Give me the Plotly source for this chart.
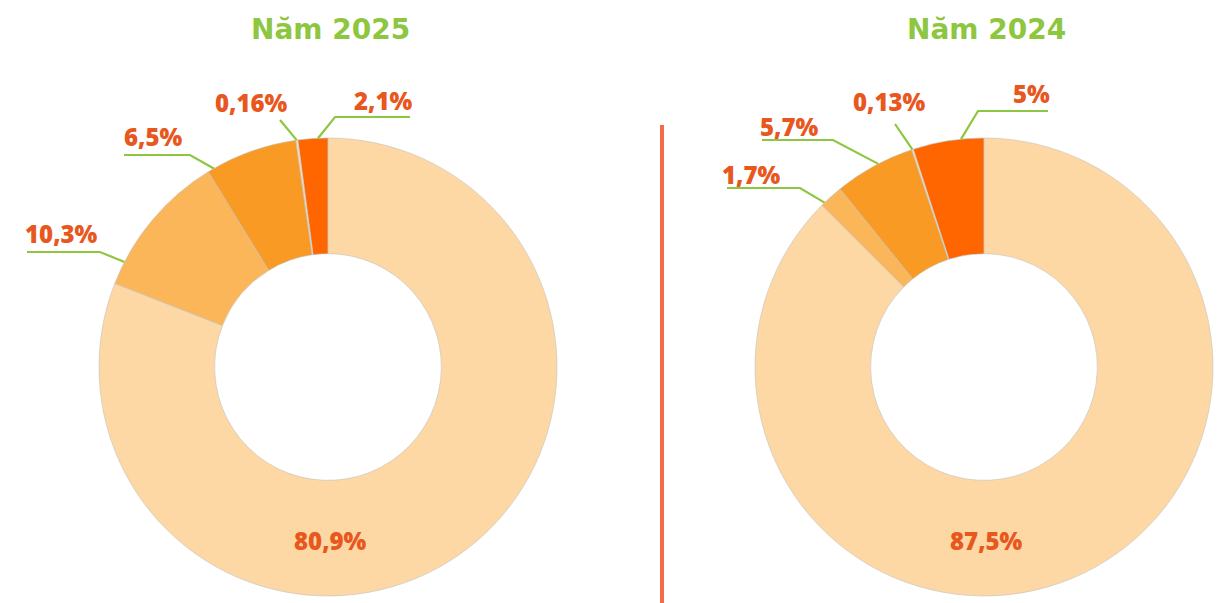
import math
import plotly.graph_objects as go

W, H = 1226, 603

# ---- data
titles = ["Năm 2025", "Năm 2024"]
values_2025 = [2.1, 0.16, 6.5, 10.3, 80.9]
labels_2025 = ["2,1%", "0,16%", "6,5%", "10,3%", "80,9%"]
values_2024 = [5, 0.13, 5.7, 1.7, 87.5]
labels_2024 = ["5%", "0,13%", "5,7%", "1,7%", "87,5%"]

# ---- style
colors_2025 = ["#FF6600", "#FCDDB0", "#F99A25", "#FBB65A", "#FDD8A4"]
colors_2024 = ["#FF6600", "#FCDDB0", "#F99A25", "#FBB65A", "#FDD8A4"]
GREEN = "#8DC63F"
LABEL = "#E8571E"

# pie geometry (pixels)
R = 229
HOLE = 0.495
centers = [(328, 367), (984, 367)]

# leader lines: fraction along slice, elbow point, horizontal end, text centre
leaders_2025 = [
    (0.33, (335, 117), 410, (383, 100)),
    (0.5, (280, 120), None, (251, 102)),
    (0.93, (190, 155), 124, (153, 136)),
    (0.84, (100, 252), 27, (61, 233)),
]
leaders_2024 = [
    (0.32, (978, 111), 1048, (1031, 93)),
    (0.5, (895, 124), None, (889, 101)),
    (0.44, (833, 140), 762, (789, 126)),
    (0.84, (800, 188), 727, (751, 174)),
]

fig = go.Figure()
shapes = []
annotations = []

charts = [
    (values_2025, labels_2025, colors_2025, leaders_2025),
    (values_2024, labels_2024, colors_2024, leaders_2024),
]

for k, (vals, labs, cols, leaders) in enumerate(charts):
    cx, cy = centers[k]
    total = sum(vals)
    fig.add_trace(go.Pie(
        values=vals,
        labels=labs,
        sort=False,
        direction="counterclockwise",
        # plotly offsets ccw pies by the first slice, undo that so slice 1 starts at 12 o'clock
        rotation=-360 * vals[0] / total,
        hole=HOLE,
        textinfo="none",
        hoverinfo="label",
        marker=dict(colors=cols, line=dict(color="rgba(190,190,190,0.7)", width=0.8)),
        domain=dict(x=[(cx - R) / W, (cx + R) / W],
                    y=[(H - cy - R) / H, (H - cy + R) / H]),
        showlegend=False,
    ))

    cum = 0
    for i, v in enumerate(vals[:-1]):
        f, (ex, ey), hx, (tx, ty) = leaders[i]
        th = math.radians(360 * (cum + f * v) / total)
        ax, ay = cx - R * math.sin(th), cy - R * math.cos(th)
        path = f"M {ax} {ay} L {ex} {ey}"
        if hx is not None:
            path += f" L {hx} {ey}"
        shapes.append(dict(type="path", path=path, xref="x", yref="y",
                           line=dict(color=GREEN, width=2.2), layer="above"))
        annotations.append(dict(x=tx, y=ty, xref="x", yref="y", text=labs[i],
                                showarrow=False, xanchor="center", yanchor="middle",
                                font=dict(family="Open Sans", size=24, color=LABEL, weight=800)))
        cum += v

    # big slice label straight below centre
    annotations.append(dict(x=cx + 2, y=cy + R * (1 + HOLE) / 2 + 2, xref="x", yref="y",
                            text=labs[-1], showarrow=False,
                            font=dict(family="Open Sans", size=24, color=LABEL, weight=800)))
    annotations.append(dict(x=cx + 2, y=29, xref="x", yref="y", text=titles[k],
                            showarrow=False, yanchor="middle",
                            font=dict(family="DejaVu Sans", size=28, color=GREEN, weight="bold")))

# separator
shapes.append(dict(type="line", x0=662, x1=662, y0=125, y1=603, xref="x", yref="y",
                   line=dict(color="#F26B4A", width=4)))

fig.update_layout(
    width=W, height=H,
    margin=dict(l=0, r=0, t=0, b=0),
    paper_bgcolor="white", plot_bgcolor="white",
    xaxis=dict(range=[0, W], visible=False, domain=[0, 1], fixedrange=True),
    yaxis=dict(range=[H, 0], visible=False, domain=[0, 1], fixedrange=True),
    shapes=shapes,
    annotations=annotations,
)

fig.write_html("out.html", config={"displayModeBar": False},
               post_script="document.body.style.margin='0';")
